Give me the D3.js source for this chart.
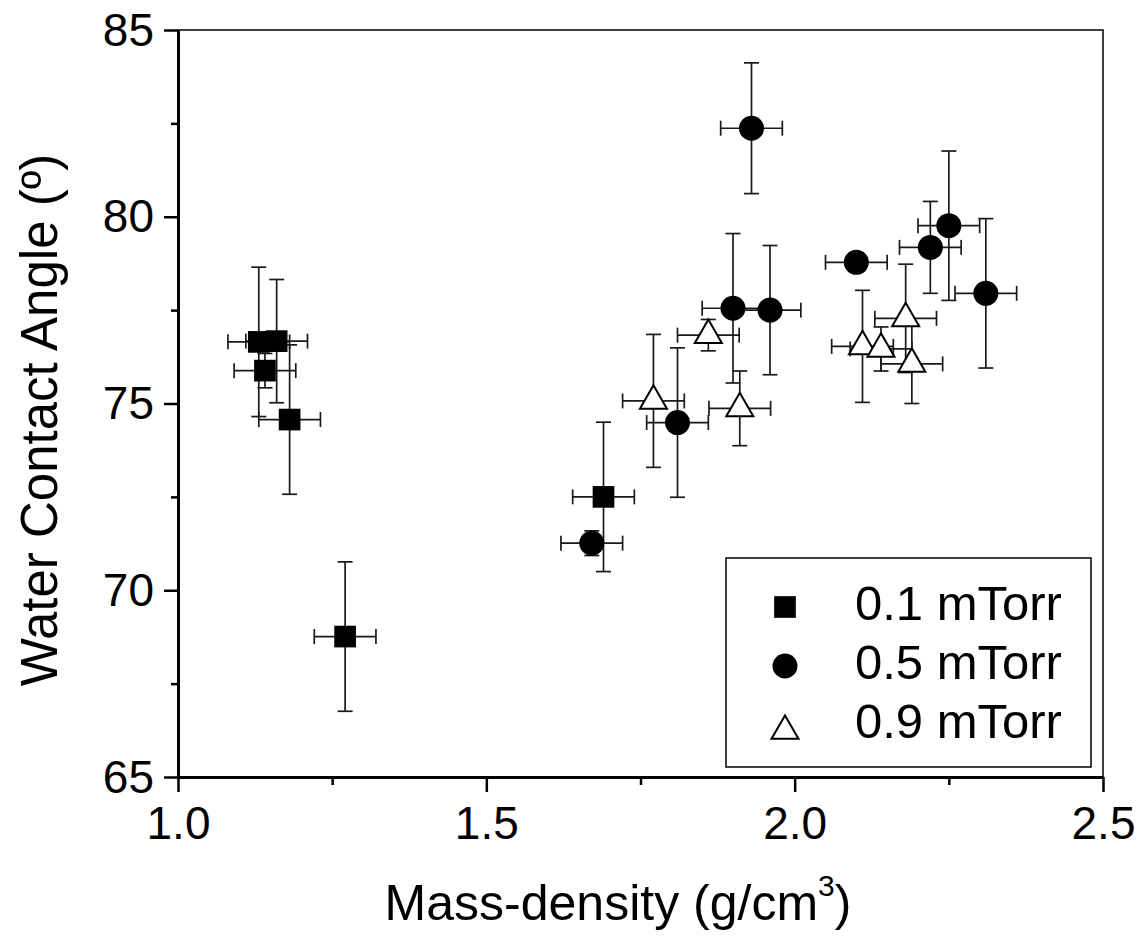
<!DOCTYPE html>
<html>
<head>
<meta charset="utf-8">
<script src="https://cdnjs.cloudflare.com/ajax/libs/d3/7.8.5/d3.min.js"></script>
<style>
  body { margin: 0; background: #fff; }
  text { font-family: "Liberation Sans", Arial, sans-serif; fill: #000; }
</style>
</head>
<body>
<div id="chart"></div>
<script>
// 0.1 mTorr (filled squares)
const densityLow = [1.131, 1.160, 1.141, 1.181, 1.271, 1.690];
const angleLow = [76.65, 76.67, 75.88, 74.57, 68.76, 72.50];
const angleErrLow = [2.0, 1.65, 0.46, 2.0, 2.0, 2.0];

// 0.5 mTorr (filled circles)
const densityMid = [1.671, 1.810, 1.930, 1.900, 1.960, 2.100, 2.220, 2.250, 2.310];
const angleMid = [71.26, 74.49, 82.37, 77.55, 77.50, 78.78, 79.18, 79.76, 77.95];
const angleErrMid = [0.33, 2.0, 1.75, 2.0, 1.73, 0.25, 1.23, 2.0, 2.0];

// 0.9 mTorr (open triangles)
const densityHigh = [1.771, 1.911, 1.860, 2.110, 2.140, 2.180, 2.190];
const angleHigh = [75.07, 74.87, 76.83, 76.53, 76.46, 77.28, 76.06];
const angleErrHigh = [1.78, 1.0, 0.42, 1.5, 0.59, 1.45, 1.06];

// same density error for every point
const densityErr = 0.05;

const seriesNames = ["0.1 mTorr", "0.5 mTorr", "0.9 mTorr"];
const xTicks = [1.0, 1.5, 2.0, 2.5];
const yTicks = [65, 70, 75, 80, 85];

function drawChart() {
  const width = 1146;
  const height = 938;
  const plot = { left: 178, top: 30, right: 1103, bottom: 777 };

  d3.select("#chart svg").remove();

  const svg = d3
    .select("#chart")
    .append("svg")
    .attr("width", width)
    .attr("height", height);

  const x = d3.scaleLinear().domain([1.0, 2.5]).range([plot.left, plot.right]);
  const y = d3.scaleLinear().domain([65, 85]).range([plot.bottom, plot.top]);

  // build the series from the arrays
  const series = [
    { name: seriesNames[0], shape: d3.symbolSquare, size: 470, fill: "#000",
      xs: densityLow, ys: angleLow, es: angleErrLow },
    { name: seriesNames[1], shape: d3.symbolCircle, size: 491, fill: "#000",
      xs: densityMid, ys: angleMid, es: angleErrMid },
    { name: seriesNames[2], shape: d3.symbolTriangle, size: 316, fill: "#fff",
      xs: densityHigh, ys: angleHigh, es: angleErrHigh },
  ];

  // thin frame on top and right
  svg.append("rect")
    .attr("x", plot.left)
    .attr("y", plot.top)
    .attr("width", plot.right - plot.left)
    .attr("height", plot.bottom - plot.top)
    .attr("fill", "none")
    .attr("stroke", "#000")
    .attr("stroke-width", 1.5);

  // x axis, major and minor ticks
  const xAxis = svg.append("g")
    .attr("transform", `translate(0, ${plot.bottom})`)
    .call(d3.axisBottom(x).tickValues(xTicks).tickFormat(d3.format(".1f"))
      .tickSize(15).tickSizeOuter(0).tickPadding(14));
  svg.append("g")
    .attr("transform", `translate(0, ${plot.bottom})`)
    .call(d3.axisBottom(x).tickValues([1.25, 1.75, 2.25]).tickFormat("")
      .tickSize(8).tickSizeOuter(0))
    .call((g) => g.select(".domain").remove());

  // y axis, major and minor ticks
  const yAxis = svg.append("g")
    .attr("transform", `translate(${plot.left}, 0)`)
    .call(d3.axisLeft(y).tickValues(yTicks).tickSize(14).tickSizeOuter(0).tickPadding(10));
  svg.append("g")
    .attr("transform", `translate(${plot.left}, 0)`)
    .call(d3.axisLeft(y).tickValues([67.5, 72.5, 77.5, 82.5]).tickFormat("")
      .tickSize(7).tickSizeOuter(0))
    .call((g) => g.select(".domain").remove());

  svg.selectAll(".domain").attr("stroke-width", 3);
  svg.selectAll(".tick line").attr("stroke-width", 2.5);
  xAxis.selectAll(".tick text").style("font-size", "46px");
  yAxis.selectAll(".tick text").style("font-size", "46px").attr("dy", "0.33em");

  // axis titles
  const xTitle = svg.append("text")
    .attr("x", 618)
    .attr("y", 920)
    .attr("text-anchor", "middle")
    .style("font-size", "50px");
  xTitle.append("tspan").text("Mass-density (g/cm");
  xTitle.append("tspan").text("3").attr("dy", -24).style("font-size", "30px");
  xTitle.append("tspan").text(")").attr("dy", 24);

  svg.append("text")
    .attr("transform", `translate(57, 420) rotate(-90)`)
    .attr("text-anchor", "middle")
    .style("font-size", "51px")
    .text("Water Contact Angle (º)");

  // error bars, drawn under the markers
  const cap = 7.5;
  series.forEach((s) => {
    const pts = s.xs.map((d, i) => ({ d: d, a: s.ys[i], e: s.es[i] }));
    const g = svg.append("g").attr("stroke", "#1a1a1a").attr("stroke-width", 1.7);
    pts.forEach((p) => {
      const cx = x(p.d), cy = y(p.a);
      const y0 = y(p.a - p.e), y1 = y(p.a + p.e);
      const x0 = x(p.d - densityErr), x1 = x(p.d + densityErr);
      g.append("line").attr("x1", cx).attr("x2", cx).attr("y1", y0).attr("y2", y1);
      g.append("line").attr("x1", cx - cap).attr("x2", cx + cap).attr("y1", y0).attr("y2", y0);
      g.append("line").attr("x1", cx - cap).attr("x2", cx + cap).attr("y1", y1).attr("y2", y1);
      g.append("line").attr("x1", x0).attr("x2", x1).attr("y1", cy).attr("y2", cy);
      g.append("line").attr("x1", x0).attr("x2", x0).attr("y1", cy - cap).attr("y2", cy + cap);
      g.append("line").attr("x1", x1).attr("x2", x1).attr("y1", cy - cap).attr("y2", cy + cap);
    });
  });

  // markers
  series.forEach((s) => {
    svg.append("g")
      .selectAll("path")
      .data(s.xs.map((d, i) => [d, s.ys[i]]))
      .enter()
      .append("path")
      .attr("d", d3.symbol().type(s.shape).size(s.size))
      .attr("transform", (d) => `translate(${x(d[0])}, ${y(d[1])})`)
      .attr("fill", s.fill)
      .attr("stroke", "#000")
      .attr("stroke-width", s.fill === "#000" ? 0 : 2);
  });

  // legend
  const legend = svg.append("g").attr("transform", "translate(726, 558)");
  legend.append("rect")
    .attr("width", 365)
    .attr("height", 209)
    .attr("fill", "#fff")
    .attr("stroke", "#000")
    .attr("stroke-width", 1.5);

  const items = legend.selectAll(".legend-item")
    .data(series)
    .enter()
    .append("g")
    .attr("class", "legend-item")
    .attr("transform", (d, i) => `translate(0, ${i * 59})`);

  items.append("path")
    .attr("d", (d) => d3.symbol().type(d.shape).size(d.size)())
    .attr("transform", (d, i) => `translate(59, ${i === 2 ? 55 : 49})`)
    .attr("fill", (d) => d.fill)
    .attr("stroke", "#000")
    .attr("stroke-width", (d) => (d.fill === "#000" ? 0 : 2));

  items.append("text")
    .attr("x", 129)
    .attr("y", 62)
    .style("font-size", "49px")
    .text((d) => d.name);
}

drawChart();
</script>
</body>
</html>
